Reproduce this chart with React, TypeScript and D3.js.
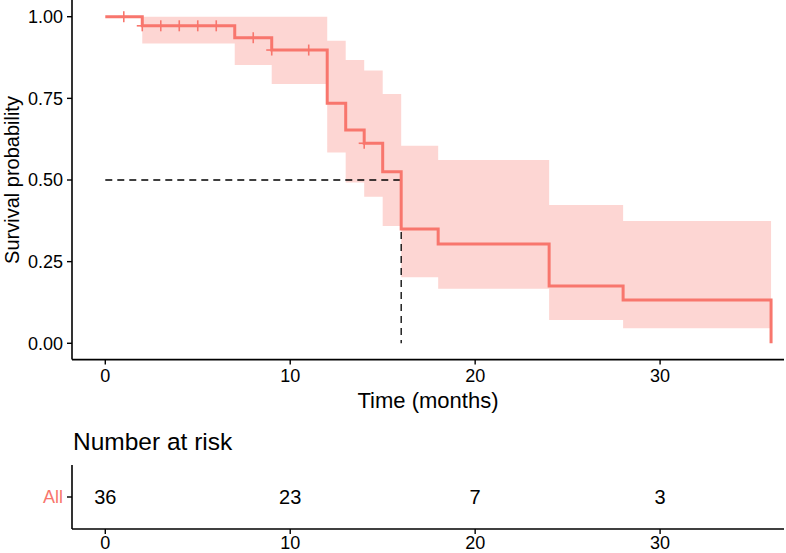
import React from "react";
import * as d3 from "d3";

// ---- data ----
const stepTimes = [0, 2, 7, 9, 12, 13, 14, 15, 16, 18, 24, 28, 36];
const survival = [1, 0.9722, 0.9357, 0.898, 0.735, 0.653, 0.6125, 0.5255, 0.35, 0.304, 0.1757, 0.1328, 0];
const upperCI = [1, 1, 1, 1, 0.9265, 0.8675, 0.835, 0.763, 0.605, 0.5615, 0.4237, 0.3747, 0.3747];
const lowerCI = [1, 0.918, 0.852, 0.794, 0.584, 0.492, 0.449, 0.359, 0.2023, 0.1666, 0.0716, 0.0462, 0.0462];
const censorTimes = [1, 2, 3, 4, 5, 6, 8, 9, 11, 14];
const censorSurv = [1, 0.9722, 0.9722, 0.9722, 0.9722, 0.9722, 0.9357, 0.898, 0.898, 0.6125];
const medianTime = 16;
const xTicks = [0, 10, 20, 30];
const yTicks = [0, 0.25, 0.5, 0.75, 1];
const yTickLabels = ["0.00", "0.25", "0.50", "0.75", "1.00"];
const riskTimes = [0, 10, 20, 30];
const riskCounts = [36, 23, 7, 3];
const strataName = "All";

const COLOR = "#F8766D";
const FONT = "'Liberation Sans', Arial, Helvetica, sans-serif";

export default function App() {
  const W = 786, H = 553;
  const left = 72, right = 784;
  const top = 0.4, bottom = 359.6;
  const x = d3.scaleLinear().domain([-1.8, 36.7]).range([left, right]);
  const y = d3.scaleLinear().domain([-0.05, 1.05]).range([bottom, top]);

  const pts = stepTimes.map((t, i) => ({ t, s: survival[i], u: upperCI[i], l: lowerCI[i] }));
  const line = d3.line<any>().x(d => x(d.t)).y(d => y(d.s)).curve(d3.curveStepAfter);
  const area = d3
    .area<any>()
    .x(d => x(d.t))
    .y0(d => y(d.l))
    .y1(d => y(d.u))
    .curve(d3.curveStepAfter);
  // band until the last time (no band after final drop)
  const bandPts = pts.slice(0, pts.length - 1).concat([{ ...pts[pts.length - 2], t: stepTimes[stepTimes.length - 1] }]);

  // median lines
  const medY = y(0.5);
  const medX = x(medianTime);

  // risk table
  const tTop = 465, tBottom = 529;
  const rowY = (tTop + tBottom) / 2;

  return (
    <svg width={W} height={H} style={{ position: "absolute", left: 0, top: 0, background: "#fff" }} fontFamily={FONT}>
      <rect x={0} y={0} width={W} height={H} fill="#fff" />
      {/* CI band */}
      <path d={area(bandPts) || ""} fill={COLOR} fillOpacity={0.3} stroke="none" />
      {/* median dashed lines */}
      <path
        d={`M${x(0)},${medY}H${medX}V${y(0)}`}
        fill="none"
        stroke="#000"
        strokeWidth={1.3}
        strokeDasharray="7,5"
      />
      {/* survival curve */}
      <path d={line(pts) || ""} fill="none" stroke={COLOR} strokeWidth={3} />
      {/* censor marks */}
      {censorTimes.map((t, i) => (
        <g key={i} stroke={COLOR} strokeWidth={1.6}>
          <line x1={x(t)} x2={x(t)} y1={y(censorSurv[i]) - 5.5} y2={y(censorSurv[i]) + 5.5} />
          <line x1={x(t) - 5.5} x2={x(t) + 5.5} y1={y(censorSurv[i])} y2={y(censorSurv[i])} />
        </g>
      ))}
      {/* axes */}
      <line x1={left} x2={left} y1={0} y2={bottom} stroke="#000" strokeWidth={1.6} />
      <line x1={left} x2={right} y1={bottom} y2={bottom} stroke="#000" strokeWidth={1.6} />
      {yTicks.map((v, i) => (
        <g key={i}>
          <line x1={left - 5} x2={left} y1={y(v)} y2={y(v)} stroke="#000" strokeWidth={1.4} />
          <text x={left - 9} y={y(v)} dy="0.35em" textAnchor="end" fontSize={18} fill="#000">
            {yTickLabels[i]}
          </text>
        </g>
      ))}
      {xTicks.map((v, i) => (
        <g key={i}>
          <line x1={x(v)} x2={x(v)} y1={bottom} y2={bottom + 5} stroke="#000" strokeWidth={1.4} />
          <text x={x(v)} y={376} dy="0.35em" textAnchor="middle" fontSize={18} fill="#000">
            {v}
          </text>
        </g>
      ))}
      <text
        transform={`translate(12,${(top + bottom) / 2}) rotate(-90)`}
        dy="0.35em"
        textAnchor="middle"
        fontSize={20}
        fill="#000"
      >
        Survival probability
      </text>
      <text x={(left + right) / 2} y={407.5} textAnchor="middle" fontSize={22} fill="#000">
        Time (months)
      </text>

      {/* risk table */}
      <text x={73} y={450} fontSize={24.5} fill="#000">
        Number at risk
      </text>
      <line x1={left} x2={left} y1={tTop} y2={tBottom} stroke="#000" strokeWidth={1.6} />
      <line x1={left} x2={right} y1={tBottom} y2={tBottom} stroke="#000" strokeWidth={1.6} />
      <line x1={left - 5} x2={left} y1={rowY} y2={rowY} stroke="#000" strokeWidth={1.4} />
      <text x={left - 9} y={rowY} dy="0.35em" textAnchor="end" fontSize={18} fill={COLOR}>
        {strataName}
      </text>
      {riskTimes.map((t, i) => (
        <text key={i} x={x(t)} y={rowY} dy="0.35em" textAnchor="middle" fontSize={20} fill="#000">
          {riskCounts[i]}
        </text>
      ))}
      {xTicks.map((v, i) => (
        <g key={i}>
          <line x1={x(v)} x2={x(v)} y1={tBottom} y2={tBottom + 5} stroke="#000" strokeWidth={1.4} />
          <text x={x(v)} y={543} dy="0.35em" textAnchor="middle" fontSize={18} fill="#000">
            {v}
          </text>
        </g>
      ))}
    </svg>
  );
}
